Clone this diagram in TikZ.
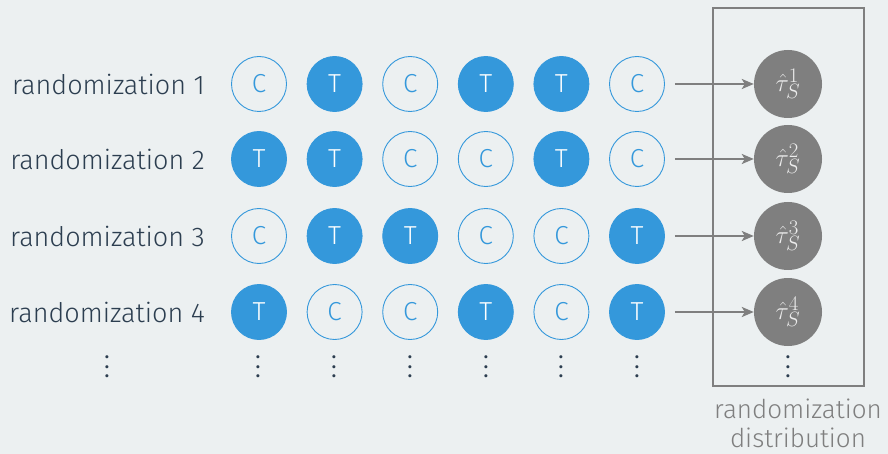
\documentclass[tikz,border=0pt]{standalone}
\usepackage{fontspec}
\setmainfont{Fira Sans}[UprightFont=* Light]
\newfontfamily\firareg{Fira Sans}
\usetikzlibrary{arrows.meta}
\definecolor{bg}{HTML}{ECF0F1}
\definecolor{tblue}{HTML}{3498DB}
\definecolor{dgray}{HTML}{7F7F7F}
\definecolor{ink}{HTML}{2C3E50}
\begin{document}
\begin{tikzpicture}[x=1pt,y=-1pt,
  lab/.style={text=ink,font=\fontsize{27}{32}\selectfont,anchor=east,inner sep=0pt},
  ctl/.style={circle,draw=tblue,line width=0.9pt,fill=bg,minimum size=55pt,inner sep=0pt,text=tblue,font=\fontsize{26}{30}\selectfont},
  trt/.style={circle,draw=tblue,line width=0.9pt,fill=tblue,minimum size=55pt,inner sep=0pt,text=white,font=\fontsize{26}{30}\selectfont},
  est/.style={circle,fill=dgray,minimum size=68pt,inner sep=0pt,text=white!85!dgray,font=\fontsize{30}{34}\selectfont},
  arr/.style={draw=dgray,line width=2.8pt,-{Stealth[length=12pt,width=10pt,inset=3pt]}},
  vd/.style={text=ink,font=\firareg\fontsize{22}{9.6}\selectfont,inner sep=0pt,align=center}
]
\fill[bg] (0,0) rectangle (888,454);
\useasboundingbox (0,0) rectangle (888,454);
\draw[dgray,line width=2pt] (713,8) rectangle (864,386);
\foreach \r/\y/\p in {1/84/{C,T,C,T,T,C},2/159/{T,T,C,C,T,C},3/236/{C,T,T,C,C,T},4/312/{T,C,C,T,C,T}}{
  \node[lab] (l\r) at (205,\y) {randomization \r};
  \foreach \s [count=\i] in \p {
    \pgfmathsetmacro{\xx}{259+75.6*(\i-1)}
    \if\s C
      \node[ctl] (c\r\i) at (\xx,\y) {C};
    \else
      \node[trt] (c\r\i) at (\xx,\y) {T};
    \fi
  }
  \node[est] (e\r) at (788,\y) {$\hat{\tau}_S^{\r}$};
  \draw[arr] ([xshift=10pt]c\r6.east) -- (e\r.west);
}
\foreach \x [count=\k] in {107,258,334,410,486,561,637,788}{
  \node[vd] (d\k) at (\x,367) {.\\.\\.};
}
\node[text=dgray,font=\fontsize{26}{29}\selectfont,align=center,inner sep=0pt] (rd) at (798,423) {randomization\\distribution};
\end{tikzpicture}
\end{document}
